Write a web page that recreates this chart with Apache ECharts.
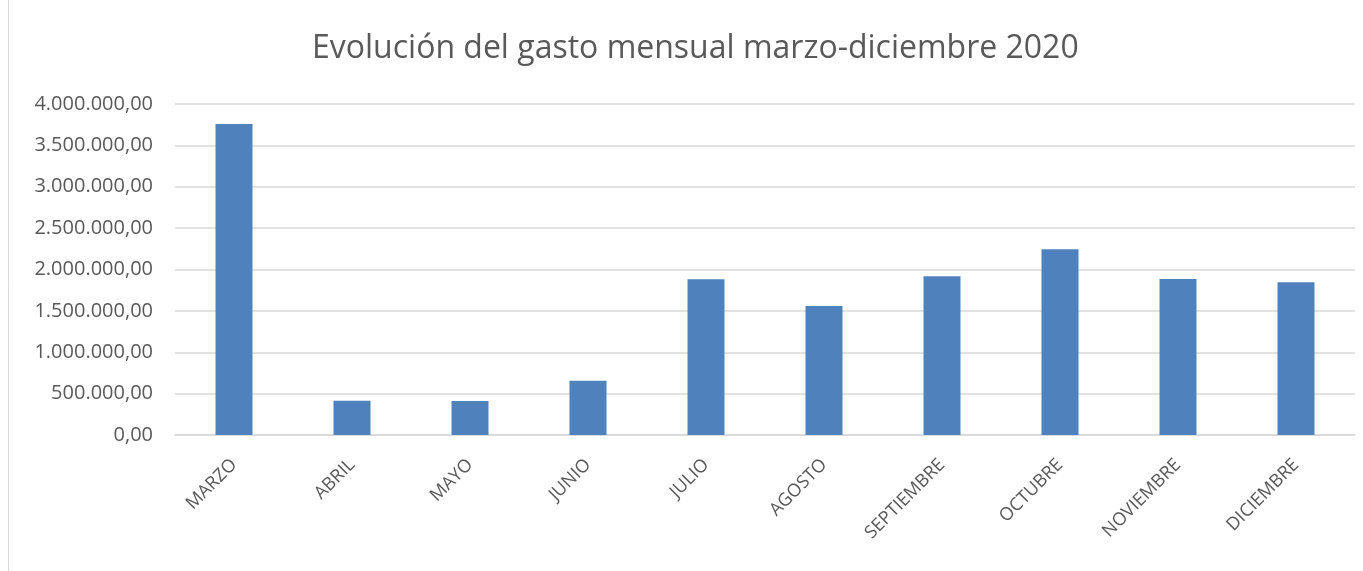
<!DOCTYPE html>
<html>
<head>
<meta charset="utf-8">
<script src="https://cdn.jsdelivr.net/npm/echarts@6/dist/echarts.min.js"></script>
<style>
  html, body { margin: 0; padding: 0; background: #fff; }
  #chart { width: 1363px; height: 571px; }
</style>
</head>
<body>
<div id="chart"></div>
<script>
const meses = ['MARZO', 'ABRIL', 'MAYO', 'JUNIO', 'JULIO', 'AGOSTO', 'SEPTIEMBRE', 'OCTUBRE', 'NOVIEMBRE', 'DICIEMBRE']
const gasto = [3758000, 415000, 411000, 656000, 1882000, 1559000, 1918000, 2244000, 1885000, 1845000]

const textColor = '#595959'
const fontFamily = '"Open Sans", "Noto Sans", sans-serif'

// 1234567 -> 1.234.567,00
function formatEs(v) {
  const parts = Math.round(v).toString().replace(/\B(?=(\d{3})+(?!\d))/g, '.')
  return parts + ',00'
}

const chart = echarts.init(document.getElementById('chart'))
chart.setOption({
  animation: false,
  backgroundColor: '#ffffff',
  title: {
    text: 'Evolución del gasto mensual marzo-diciembre 2020',
    left: 307,
    top: 28,
    textStyle: {
      color: textColor,
      fontFamily: fontFamily,
      fontSize: 32,
      fontWeight: 'normal'
    }
  },
  graphic: [
    {
      type: 'line',
      shape: { x1: 8.5, y1: 0, x2: 8.5, y2: 571 },
      style: { stroke: '#d9d9d9', lineWidth: 1 }
    }
  ],
  grid: {
    left: 175,
    right: 8,
    top: 104,
    bottom: 136
  },
  xAxis: {
    type: 'category',
    data: meses,
    axisTick: { show: false },
    axisLine: { lineStyle: { color: '#d9d9d9', width: 1.5 } },
    axisLabel: {
      rotate: 45,
      interval: 0,
      margin: 27,
      color: textColor,
      fontFamily: fontFamily,
      fontSize: 18
    }
  },
  yAxis: {
    type: 'value',
    min: 0,
    max: 4000000,
    interval: 500000,
    axisLine: { show: false },
    axisTick: { show: false },
    splitLine: { lineStyle: { color: '#d9d9d9', width: 1.5 } },
    axisLabel: {
      margin: 22,
      color: textColor,
      fontFamily: fontFamily,
      fontSize: 20,
      formatter: formatEs
    }
  },
  series: [
    {
      type: 'bar',
      data: gasto,
      barWidth: 37,
      itemStyle: { color: '#4f81bd' }
    }
  ]
})
</script>
</body>
</html>
